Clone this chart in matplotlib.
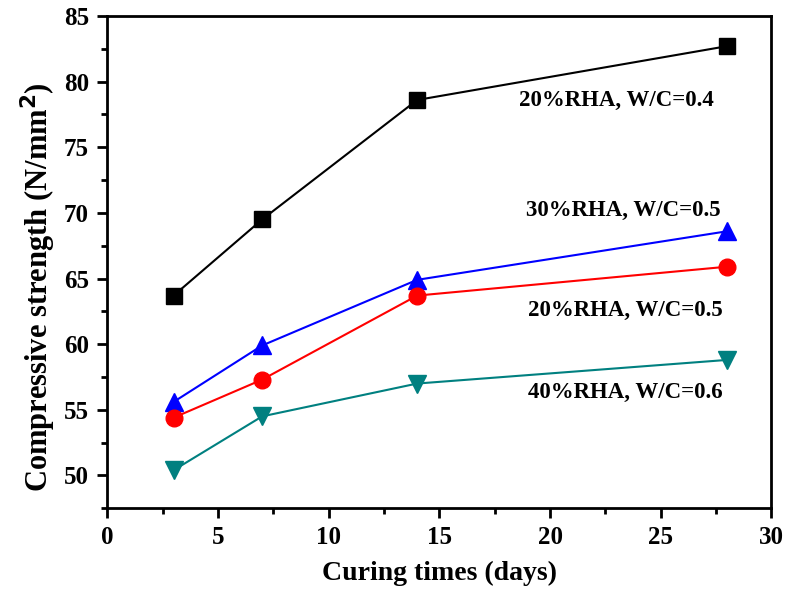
import matplotlib.pyplot as plt
from matplotlib.ticker import MultipleLocator

days = [3, 7, 14, 28]
rha20_wc04 = [63.7, 69.5, 78.6, 82.7]
rha30_wc05 = [55.6, 59.9, 64.9, 68.6]
rha20_wc05 = [54.4, 57.3, 63.7, 65.9]
rha40_wc06 = [50.4, 54.5, 57.0, 58.8]

labels = ["20%RHA, W/C=0.4", "30%RHA, W/C=0.5", "20%RHA, W/C=0.5", "40%RHA, W/C=0.6"]
label_pos = [(23.0, 78.6), (23.3, 70.2), (23.4, 62.6), (23.4, 56.3)]

plt.rcParams['font.family'] = ['Liberation Serif', 'DejaVu Serif']
plt.rcParams['font.weight'] = 'bold'

fig = plt.figure(figsize=(7.88, 5.91), dpi=100)
ax = fig.add_axes([0.136, 0.140, 0.843, 0.833])

ax.plot(days, rha20_wc04, color='black', marker='s', markersize=11, linewidth=1.5)
ax.plot(days, rha30_wc05, color='#0000ff', marker='^', markersize=13, linewidth=1.5)
ax.plot(days, rha20_wc05, color='#ff0000', marker='o', markersize=12, linewidth=1.5)
ax.plot(days, rha40_wc06, color='#008080', marker='v', markersize=13, linewidth=1.5)

for txt, (x, y) in zip(labels, label_pos):
    ax.text(x, y, txt, ha='center', va='center', fontsize=16.5, fontweight='bold')

ax.set_xlim(0, 30)
ax.set_ylim(47.5, 85)
ax.xaxis.set_major_locator(MultipleLocator(5))
ax.xaxis.set_minor_locator(MultipleLocator(2.5))
ax.yaxis.set_major_locator(MultipleLocator(5))
ax.yaxis.set_minor_locator(MultipleLocator(2.5))
ax.tick_params(which='major', direction='out', length=7, width=2, labelsize=18, pad=6)
ax.tick_params(which='minor', direction='out', length=4, width=2)
for lab in ax.get_xticklabels() + ax.get_yticklabels():
    lab.set_fontweight('bold')
for sp in ax.spines.values():
    sp.set_linewidth(2)

ax.set_xlabel("Curing times (days)", fontsize=20, fontweight='bold', labelpad=8)
ax.set_ylabel("Compressive strength (N/mm$^\\mathbf{2}$)", fontsize=22, fontweight='bold')
ax.yaxis.set_label_coords(-0.074, 0.45)

fig.savefig("out.png", dpi=100)
